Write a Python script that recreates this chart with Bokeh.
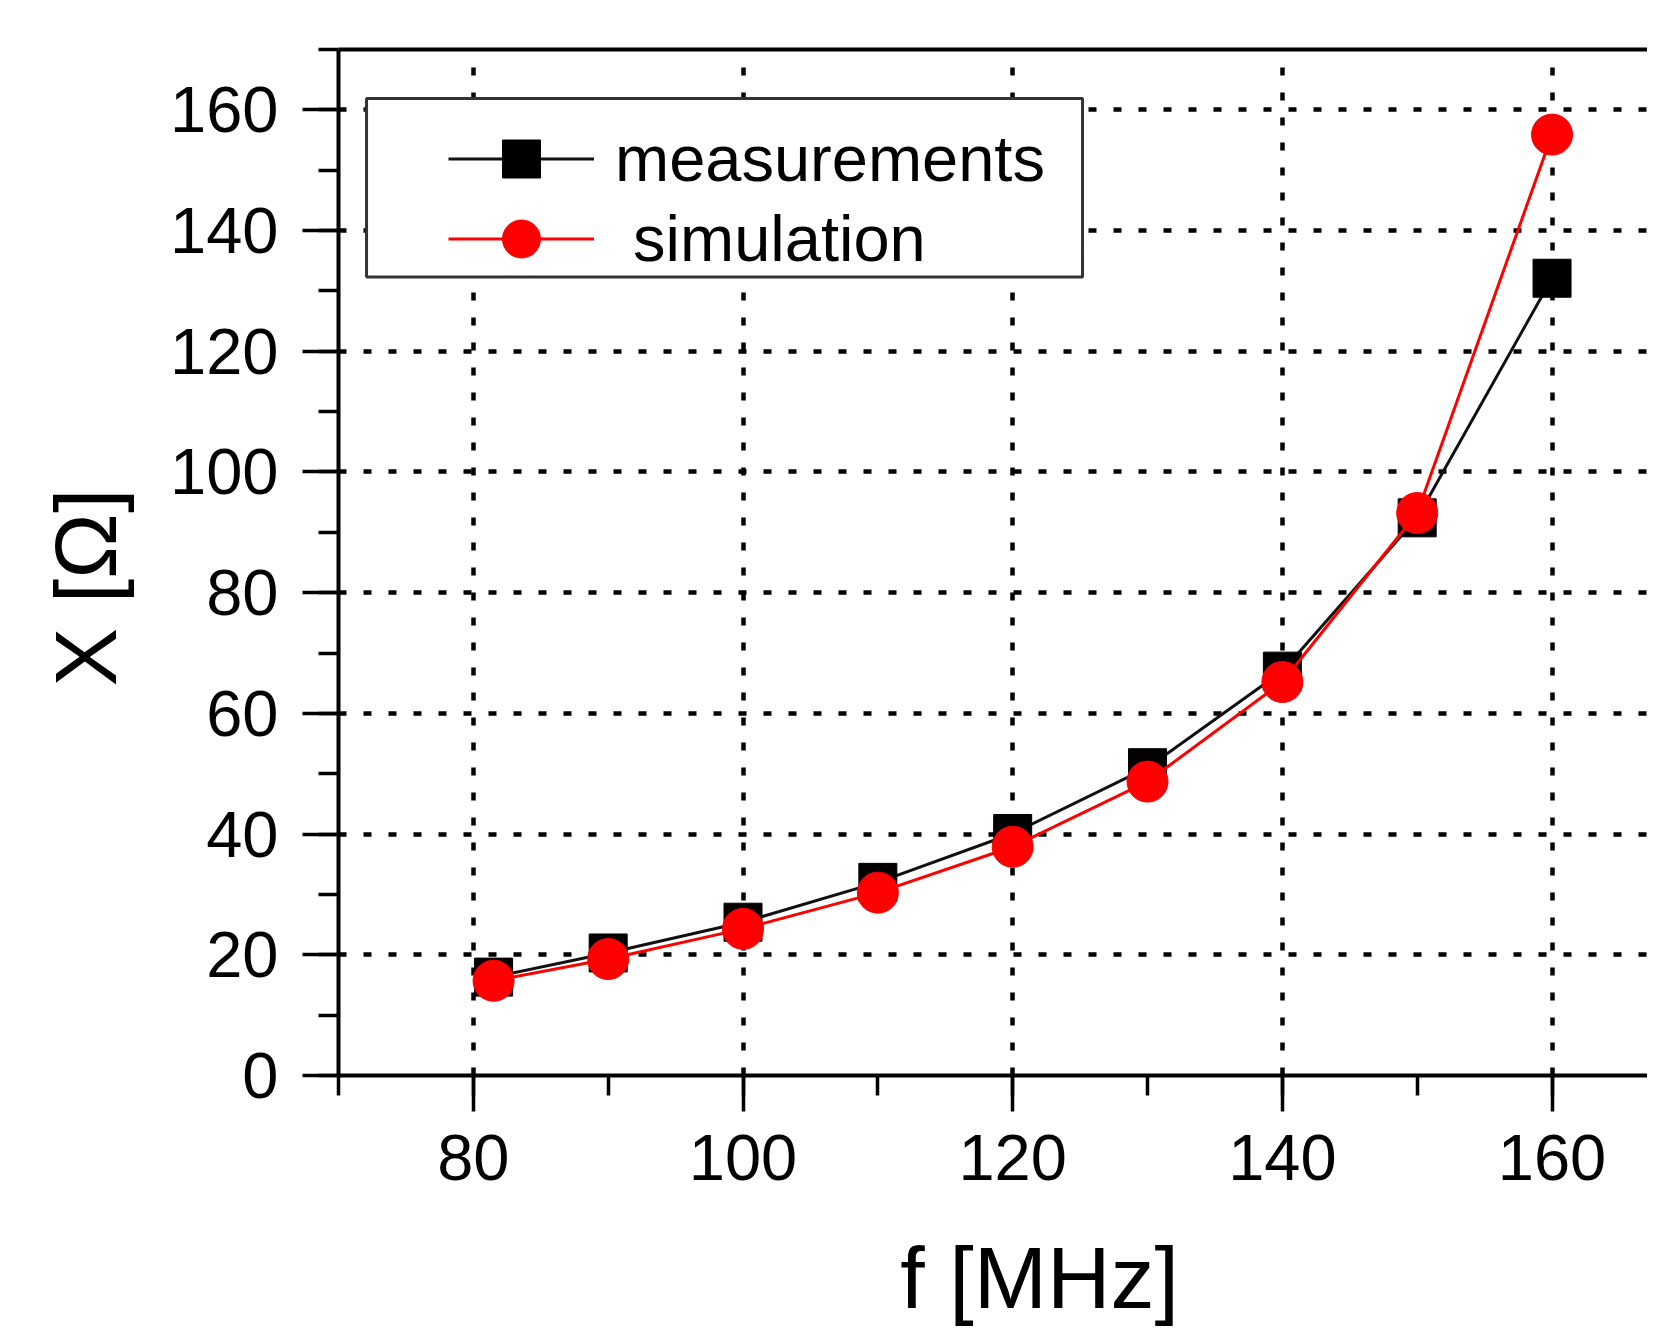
from bokeh.plotting import figure
from bokeh.models import (Range1d, SingleIntervalTicker, LinearAxis, FixedTicker,
                          Legend, LegendItem, BoxAnnotation, Title, ColumnDataSource)
from bokeh.embed import file_html
from bokeh.resources import INLINE

# ---- data ----
freq_mhz = [81.5, 90, 100, 110, 120, 130, 140, 150, 160]
x_measurements = [16.3, 20.3, 25.4, 32.0, 40.1, 51.0, 67.0, 92.4, 132.1]
x_simulation = [15.7, 19.3, 24.3, 30.3, 37.9, 48.7, 65.2, 93.2, 155.9]
series_names = ["measurements", " simulation"]
x_title = "f [MHz]"
y_title = "X [Ω]"

FONT = "Liberation Sans"
X_TITLE_AT = 122  # x position (MHz) where the x-axis title is centred in the original

W, H = 1647, 1331
p = figure(width=W, height=H, output_backend="svg", toolbar_location=None,
           x_range=Range1d(70, 167.08), y_range=Range1d(0, 170),
           min_border_left=338, min_border_right=0, min_border_top=49,
           min_border_bottom=256, x_axis_location=None, y_axis_location=None)
p.outline_line_color = None
p.background_fill_color = "white"
p.border_fill_color = "white"

xt = SingleIntervalTicker(interval=20, num_minor_ticks=2)
yt = SingleIntervalTicker(interval=20, num_minor_ticks=2)

xaxis = LinearAxis(ticker=xt)
yaxis = LinearAxis(ticker=yt)
for ax in (xaxis, yaxis):
    ax.axis_line_width = 4
    ax.axis_line_color = "black"
    ax.major_tick_line_width = 3.5
    ax.minor_tick_line_width = 3.5
    ax.major_tick_in = 0
    ax.major_tick_out = 36
    ax.minor_tick_in = 0
    ax.minor_tick_out = 20
    ax.major_label_text_font = FONT
    ax.major_label_text_font_size = "65px"
    ax.major_label_text_color = "black"
xaxis.major_label_standoff = 23
yaxis.major_label_standoff = 24
p.add_layout(xaxis, "below")
p.add_layout(yaxis, "left")

# x-axis title, placed off-centre like in the original
xtitle_axis = LinearAxis(ticker=FixedTicker(ticks=[X_TITLE_AT]),
                         major_label_overrides={X_TITLE_AT: x_title})
xtitle_axis.axis_line_color = None
xtitle_axis.major_tick_line_color = None
xtitle_axis.major_tick_out = 0
xtitle_axis.minor_tick_out = 0
xtitle_axis.major_label_standoff = 45
xtitle_axis.major_label_text_font = FONT
xtitle_axis.major_label_text_font_size = "88px"
xtitle_axis.major_label_text_color = "black"
p.add_layout(xtitle_axis, "below")

top = LinearAxis(ticker=FixedTicker(ticks=[]))
top.axis_line_width = 4
top.major_tick_out = 0
top.minor_tick_out = 0
p.add_layout(top, "above")

p.xgrid.ticker = xt
p.ygrid.ticker = yt
for g in (p.xgrid, p.ygrid):
    g.grid_line_color = "black"
    g.grid_line_width = 4.5
    g.grid_line_dash = "8 17"

src = ColumnDataSource(dict(f=freq_mhz, m=x_measurements, s=x_simulation))
lm = p.line("f", "m", source=src, line_color="#111111", line_width=3)
sm = p.scatter("f", "m", source=src, marker="square", size=38,
               fill_color="black", line_color="black")
ls = p.line("f", "s", source=src, line_color="#ff0000", line_width=3)
ss = p.scatter("f", "s", source=src, marker="circle", size=41,
               fill_color="#ff0000", line_color="#ff0000")

box = BoxAnnotation(left=72.08, right=125.18, bottom=132.31, top=161.89,
                    fill_color="white", fill_alpha=1.0,
                    line_color="#333333", line_alpha=1.0, line_width=3)
p.add_layout(box)

legend_style = dict(padding=0, margin=0, spacing=0,
                    glyph_width=146, glyph_height=95, label_height=95,
                    label_standoff=21, border_line_color=None,
                    background_fill_alpha=0,
                    label_text_font=FONT, label_text_font_size="65px",
                    label_text_color="black")
legend1 = Legend(items=[LegendItem(label=series_names[0], renderers=[lm, sm])],
                 location=(110, 869), **legend_style)
legend2 = Legend(items=[LegendItem(label=series_names[1], renderers=[ls, ss])],
                 location=(110, 789), **legend_style)
p.add_layout(legend1)
p.add_layout(legend2)

ylab = Title(text=y_title, align="left", offset=389, standoff=65,
             text_font=FONT, text_font_size="88px", text_font_style="normal",
             text_color="black")
p.add_layout(ylab, "left")

open("out.html", "w").write(file_html(p, INLINE))
